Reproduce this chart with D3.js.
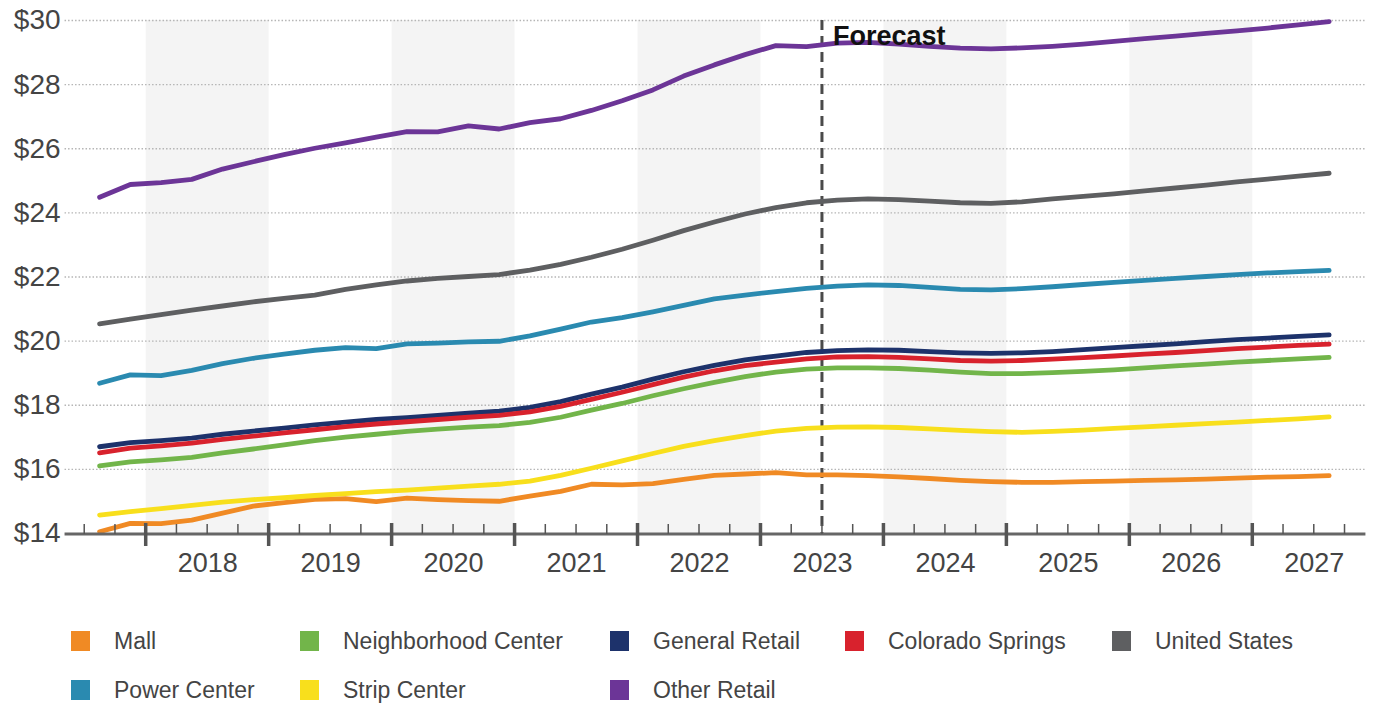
<!DOCTYPE html>
<html>
<head>
<meta charset="utf-8">
<script src="https://cdn.jsdelivr.net/npm/d3@7"></script>
<style>
	body { margin: 0; background: #fff; }
	svg { display: block; font-family: 'Liberation Sans', Arial, sans-serif; }
	.tick text { fill: #444; }
</style>
</head>
<body>
<script>
/* Data. */
const quarters = [
	'2017Q3', '2017Q4',
	'2018Q1', '2018Q2', '2018Q3', '2018Q4',
	'2019Q1', '2019Q2', '2019Q3', '2019Q4',
	'2020Q1', '2020Q2', '2020Q3', '2020Q4',
	'2021Q1', '2021Q2', '2021Q3', '2021Q4',
	'2022Q1', '2022Q2', '2022Q3', '2022Q4',
	'2023Q1', '2023Q2', '2023Q3', '2023Q4',
	'2024Q1', '2024Q2', '2024Q3', '2024Q4',
	'2025Q1', '2025Q2', '2025Q3', '2025Q4',
	'2026Q1', '2026Q2', '2026Q3', '2026Q4',
	'2027Q1', '2027Q2', '2027Q3'
];

const mall = [
	14.04, 14.30, 14.29, 14.40, 14.62, 14.84, 14.95, 15.05, 15.07, 14.98,
	15.09, 15.04, 15.01, 14.99, 15.15, 15.30, 15.52, 15.50, 15.54, 15.67,
	15.80, 15.84, 15.88, 15.81, 15.81, 15.79, 15.75, 15.70, 15.64, 15.60,
	15.58, 15.58, 15.60, 15.62, 15.64, 15.66, 15.68, 15.71, 15.74, 15.76, 15.79
];
const neighborhoodCenter = [
	16.09, 16.22, 16.28, 16.36, 16.50, 16.62, 16.75, 16.88, 16.99, 17.08,
	17.17, 17.24, 17.30, 17.35, 17.45, 17.61, 17.83, 18.04, 18.28, 18.50,
	18.70, 18.88, 19.02, 19.11, 19.15, 19.15, 19.13, 19.08, 19.02, 18.97,
	18.97, 19.00, 19.04, 19.09, 19.15, 19.21, 19.27, 19.33, 19.38, 19.43, 19.48
];
const generalRetail = [
	16.69, 16.82, 16.88, 16.96, 17.08, 17.18, 17.27, 17.37, 17.46, 17.54,
	17.60, 17.67, 17.74, 17.80, 17.92, 18.10, 18.33, 18.55, 18.80, 19.03,
	19.23, 19.40, 19.52, 19.63, 19.69, 19.71, 19.70, 19.66, 19.62, 19.60,
	19.62, 19.66, 19.72, 19.78, 19.84, 19.90, 19.97, 20.03, 20.08, 20.13, 20.18
];
const coloradoSprings = [
	16.50, 16.65, 16.72, 16.80, 16.92, 17.02, 17.12, 17.22, 17.32, 17.40,
	17.47, 17.54, 17.61, 17.67, 17.78, 17.95, 18.17, 18.39, 18.63, 18.86,
	19.06, 19.22, 19.33, 19.43, 19.49, 19.50, 19.48, 19.43, 19.38, 19.36,
	19.38, 19.42, 19.47, 19.52, 19.58, 19.63, 19.69, 19.75, 19.80, 19.85, 19.89
];
const unitedStates = [
	20.52, 20.67, 20.81, 20.95, 21.08, 21.21, 21.32, 21.42, 21.60, 21.74,
	21.86, 21.94, 22.00, 22.06, 22.20, 22.38, 22.60, 22.85, 23.13, 23.43,
	23.70, 23.95, 24.15, 24.30, 24.38, 24.42, 24.40, 24.35, 24.30, 24.28,
	24.33, 24.42, 24.50, 24.58, 24.67, 24.76, 24.85, 24.95, 25.04, 25.13, 25.22
];
const powerCenter = [
	18.67, 18.93, 18.91, 19.07, 19.28, 19.45, 19.58, 19.70, 19.78, 19.75,
	19.90, 19.92, 19.96, 19.98, 20.15, 20.36, 20.58, 20.72, 20.90, 21.10,
	21.30, 21.42, 21.53, 21.63, 21.70, 21.74, 21.72, 21.66, 21.60, 21.58,
	21.62, 21.68, 21.75, 21.82, 21.88, 21.94, 22.00, 22.06, 22.11, 22.15, 22.19
];
const stripCenter = [
	14.56, 14.67, 14.76, 14.86, 14.96, 15.04, 15.10, 15.17, 15.23, 15.29,
	15.34, 15.40, 15.46, 15.52, 15.62, 15.80, 16.02, 16.25, 16.48, 16.70,
	16.88, 17.04, 17.18, 17.26, 17.30, 17.31, 17.29, 17.25, 17.20, 17.16,
	17.14, 17.17, 17.21, 17.26, 17.31, 17.36, 17.41, 17.46, 17.51, 17.56, 17.62
];
const otherRetail = [
	24.47, 24.87, 24.93, 25.03, 25.35, 25.58, 25.80, 26.00, 26.17, 26.35,
	26.52, 26.51, 26.70, 26.60, 26.80, 26.92, 27.18, 27.48, 27.82, 28.25,
	28.60, 28.92, 29.20, 29.17, 29.28, 29.30, 29.25, 29.18, 29.12, 29.10,
	29.13, 29.18, 29.25, 29.33, 29.42, 29.50, 29.58, 29.66, 29.75, 29.85, 29.95
];

const seriesNames = ['Mall', 'Neighborhood Center', 'General Retail', 'Colorado Springs',
	'United States', 'Power Center', 'Strip Center', 'Other Retail'];
const seriesValues = [mall, neighborhoodCenter, generalRetail, coloradoSprings,
	unitedStates, powerCenter, stripCenter, otherRetail];
const seriesColors = ['#f08a24', '#72b54a', '#1d326b', '#d8222d',
	'#5e5f61', '#2a8ab0', '#f8df1c', '#6c3597'];

const years = [2018, 2019, 2020, 2021, 2022, 2023, 2024, 2025, 2026, 2027];
const shadedYears = [2018, 2020, 2022, 2024, 2026];
const yTicks = [14, 16, 18, 20, 22, 24, 26, 28, 30];
const forecastStart = '2023Q3';

/* Helpers. */
// Quarter label -> fractional year at the middle of the quarter.
function quarterMid(label) {
	let year = +label.slice(0, 4);
	let q = +label.slice(5);
	return year + (q - 0.5) / 4;
}
function quarterStart(label) {
	return +label.slice(0, 4) + (+label.slice(5) - 1) / 4;
}

/* Chart. */
const width = 1376;
const height = 706;

const x = d3.scaleLinear().domain([2018, 2027]).range([145.7, 1252.3]);
const y = d3.scaleLinear().domain([14, 30]).range([533, 20]);
const xMin = 2017.34;
const xMax = 2027.92;

const svg = d3.select('body').append('svg')
	.attr('width', width)
	.attr('height', height);

/* Shaded year bands. */
svg.append('g').selectAll('rect')
		.data(shadedYears)
	.enter().append('rect')
		.attr('x', function(d) { return x(d); })
		.attr('y', y(30))
		.attr('width', function(d) { return x(d + 1) - x(d); })
		.attr('height', y(14) - y(30))
		.attr('fill', '#f4f4f4');

/* Grid lines and y labels. */
let yAxis = svg.append('g')
	.attr('transform', 'translate(' + x(xMin) + ',0)')
	.call(d3.axisLeft(y)
		.tickValues(yTicks)
		.tickSize(-(x(xMax) - x(xMin)))
		.tickPadding(6)
		.tickFormat(function(d) { return '$' + d; }));
yAxis.select('.domain').remove();
yAxis.selectAll('.tick line')
	.attr('stroke', '#b5b5b5')
	.attr('stroke-width', 1.4)
	.attr('stroke-dasharray', '1.5,2')
	.filter(function(d) { return d === 14; }).remove();
yAxis.selectAll('.tick text')
	.attr('font-size', 28)
	.attr('fill', '#4a4a4a')
	.attr('x', -4);

/* Forecast marker. */
let fx = x(quarterStart(forecastStart));
svg.append('line')
	.attr('x1', fx).attr('x2', fx)
	.attr('y1', y(30)).attr('y2', y(14))
	.attr('stroke', '#4a4a4a')
	.attr('stroke-width', 3)
	.attr('stroke-dasharray', '10,6');

/* Lines. */
let line = d3.line()
	.x(function(d, i) { return x(quarterMid(quarters[i])); })
	.y(function(d) { return y(d); });

svg.append('g').selectAll('path')
		.data(seriesValues)
	.enter().append('path')
		.attr('d', line)
		.attr('fill', 'none')
		.attr('stroke', function(_, i) { return seriesColors[i]; })
		.attr('stroke-width', 4.8)
		.attr('stroke-linejoin', 'round')
		.attr('stroke-linecap', 'round');

svg.append('text')
	.attr('x', fx + 11)
	.attr('y', y(30) + 25)
	.attr('font-size', 27)
	.attr('font-weight', 'bold')
	.attr('fill', '#111')
	.text('Forecast');

/* X axis. */
let minorTicks = quarters.map(quarterStart)
	.concat([2027.75])
	.filter(function(d) { return d % 1 !== 0; });
let axisY = y(14) + 1;

svg.append('line')
	.attr('x1', x(xMin)).attr('x2', x(xMax))
	.attr('y1', axisY).attr('y2', axisY)
	.attr('stroke', '#666')
	.attr('stroke-width', 3);

svg.append('g').selectAll('line')
		.data(minorTicks)
	.enter().append('line')
		.attr('x1', function(d) { return x(d); })
		.attr('x2', function(d) { return x(d); })
		.attr('y1', axisY - 10).attr('y2', axisY)
		.attr('stroke', '#555')
		.attr('stroke-width', 1.5);

svg.append('g').selectAll('line')
		.data(years)
	.enter().append('line')
		.attr('x1', function(d) { return x(d); })
		.attr('x2', function(d) { return x(d); })
		.attr('y1', axisY - 11).attr('y2', axisY + 12)
		.attr('stroke', '#555')
		.attr('stroke-width', 3.5);

let xAxis = svg.append('g')
	.attr('transform', 'translate(0,' + axisY + ')')
	.call(d3.axisBottom(x)
		.tickValues(years.map(function(d) { return d + 0.5; }))
		.tickSize(0)
		.tickPadding(19)
		.tickFormat(function(d) { return String(Math.floor(d)); }));
xAxis.select('.domain').remove();
xAxis.selectAll('.tick text')
	.attr('font-size', 27);

/* Legend. */
const legendCols = [71, 300, 610, 845, 1112];
const legendRows = [641, 690];
let legend = svg.append('g').selectAll('g')
		.data(seriesNames)
	.enter().append('g')
		.attr('transform', function(_, i) {
			let col = i < 5 ? i : [0, 1, 2][i - 5];
			let row = i < 5 ? 0 : 1;
			return 'translate(' + legendCols[col] + ',' + legendRows[row] + ')';
		});
legend.append('rect')
	.attr('x', 0).attr('y', -10)
	.attr('width', 19).attr('height', 20)
	.attr('fill', function(_, i) { return seriesColors[i]; });
legend.append('text')
	.attr('x', 43)
	.attr('dy', '0.35em')
	.attr('font-size', 23)
	.attr('fill', '#444')
	.text(function(d) { return d; });
</script>
</body>
</html>
